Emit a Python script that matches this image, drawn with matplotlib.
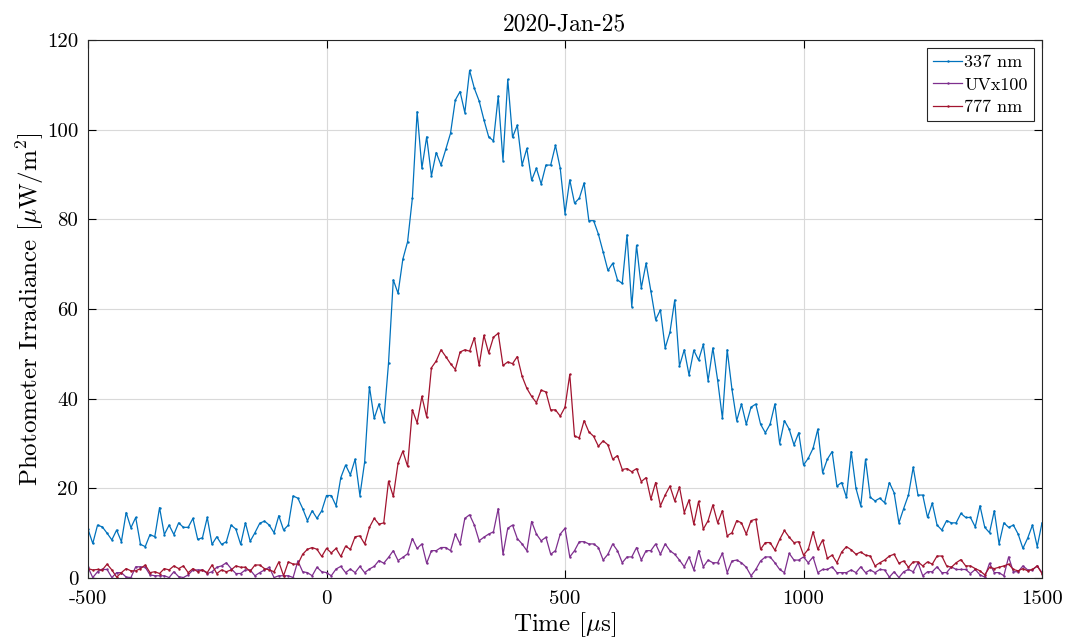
import numpy as np
import matplotlib
matplotlib.use("Agg")
import matplotlib.pyplot as plt

plt.rcParams['font.family'] = 'serif'
plt.rcParams['font.serif'] = ['cmr10']
plt.rcParams['mathtext.fontset'] = 'cm'
plt.rcParams['axes.unicode_minus'] = False
plt.rcParams['axes.formatter.use_mathtext'] = False

# time axis, 10 us steps
t = np.arange(-500, 1501, 10)

ch337 = [10.9, 7.7, 11.8, 11.4, 10.0, 8.5, 10.7, 8.1, 14.6, 11.2, 13.5, 7.5, 7.0, 9.7, 9.2, 15.7, 9.7, 11.8, 9.7, 12.3,
         11.3, 11.3, 13.3, 8.6, 9.0, 13.5, 7.5, 9.2, 7.5, 8.1, 11.8, 10.9, 7.5, 12.3, 8.2,
         10.1, 12.2, 12.7, 11.8, 10.1, 13.9, 10.7, 11.8, 18.3, 17.8, 15.5, 12.8, 15.0, 13.3,
         15.0, 18.4, 18.4, 16.1, 22.4, 25.2, 23.0, 26.5, 18.4, 25.9, 42.7, 35.6, 38.8, 34.9, 47.9, 66.5, 63.5, 71.1, 75.0,
         84.7, 104.0, 91.4, 98.4, 89.7, 94.9, 92.1, 95.6, 99.2, 106.6, 108.5, 103.8, 113.2, 109.2, 106.4, 102.2,
         98.4, 97.5, 107.5, 93.1, 111.2, 98.3, 101.0, 92.1, 95.8, 88.7, 91.4, 87.9, 92.1, 92.1, 96.5, 91.4,
         81.3, 88.8, 83.6, 84.7,
         88.1, 79.7, 79.7, 76.7, 72.7, 68.6, 70.2, 66.5, 65.7, 76.5, 60.5, 74.2, 64.7, 70.2, 64.0, 57.6, 59.8,
         51.3, 54.8, 62.0, 47.3, 50.9, 45.3, 50.8, 48.6, 52.1, 44.0, 51.3, 44.1, 35.6, 50.9, 42.1, 35.1, 38.8,
         34.3, 38.1, 38.8, 34.3, 32.4, 34.3, 38.8, 30.0, 35.1, 33.2, 29.7, 32.4, 25.2, 26.7, 28.9, 33.2,
         23.5, 26.5, 28.2, 20.5, 21.3, 18.0, 28.2, 20.0, 16.1, 26.5, 18.0, 17.2, 17.8, 16.8, 21.3, 19.0, 12.3,
         15.5, 18.5, 24.7, 18.5, 18.5, 13.5, 16.7, 11.8, 10.7, 12.8, 12.3, 12.3, 14.4, 13.5, 13.5, 11.4, 16.1,
         11.3, 10.1, 15.0, 7.6, 12.3, 11.3, 11.8, 9.8, 6.6, 8.9, 11.8, 7.0, 12.3]

uv100 = [2.4, 0.1, 1.4, 1.9, 1.9, 0.1, 1.2, 1.2, 0.2, 0.1, 2.5, 2.5, 2.4, 0.7, 0.5, 0.5, 0.5, 0.1, 1.4, 0.3,
         0.1, 0.7, 1.8, 1.8, 1.8, 1.0, 1.4, 2.4, 2.7, 3.4, 2.1, 1.0, 1.0, 1.8, 1.8,
         0.5, 1.2, 1.8, 2.4, 0.1, 0.5, 0.5, 0.5, 0.1, 3.8, 1.4, 1.2, 0.5, 2.4,
         1.4, 1.2, 0.5, 2.0, 2.6, 1.2, 2.0, 1.2, 2.6, 1.2, 2.0, 2.6, 3.9, 3.3, 4.6, 6.1, 3.9, 4.6, 5.4,
         8.8, 6.6, 7.6, 3.3, 6.1, 6.1, 6.8, 6.8, 6.1, 9.8, 7.6, 13.3, 14.1, 11.8, 8.3, 9.1, 9.8, 10.3, 15.5,
         5.3, 11.1, 11.8, 8.8, 7.6, 6.1, 12.6, 9.8, 8.3, 9.1, 5.3, 6.1, 9.8, 11.1,
         4.7, 6.1, 8.1, 8.1, 7.6, 7.6, 6.8, 4.0, 5.3, 7.6, 6.1, 3.4, 4.7, 4.7, 6.8, 4.0, 6.1, 6.1, 7.6, 5.3,
         7.6, 6.1, 5.3, 4.0, 2.5, 4.7, 1.8, 6.1, 2.5, 4.0, 3.4, 3.4, 5.5,
         1.2, 3.8, 4.0, 3.4, 2.4, 0.5, 1.9, 3.8, 4.7, 4.7, 3.4, 1.9, 1.2, 5.5, 4.0, 4.0, 4.7, 3.4, 4.7, 1.2,
         1.9, 1.9, 2.5, 1.2, 1.2, 1.2, 1.8, 1.2, 2.5, 1.2, 1.8, 1.2, 1.9,
         1.8, 0.2, 1.4, 0.1, 1.4, 1.9, 1.4, 3.4, 0.5, 1.4, 1.4, 2.5, 1.2, 1.2, 2.5, 1.9, 1.9, 1.9, 1.0, 1.9,
         0.7, 0.2, 3.3, 1.2, 1.2, 0.5, 4.7, 1.4, 1.4, 2.7, 1.8, 1.8, 2.7, 1.2]

ch777 = [2.1, 1.8, 1.9, 1.8, 3.1, 1.8, 0.2, 1.2, 2.1, 1.6, 1.6, 2.1, 2.9, 1.2, 1.4, 1.0, 2.1, 1.8, 2.7, 2.1,
         2.7, 1.2, 2.1, 1.4, 1.8, 1.2, 2.9, 1.0, 1.8, 1.4, 1.8, 2.7, 2.4, 2.4, 1.5,
         2.9, 2.9, 2.1, 1.8, 1.4, 3.6, 0.5, 3.6, 3.1, 3.1, 5.3, 6.4, 6.8, 6.4,
         4.8, 6.6, 5.6, 6.6, 4.8, 7.1, 6.4, 9.2, 9.4, 7.6, 11.3, 13.3, 12.0, 12.3,
         21.6, 18.2, 25.6, 28.3, 24.9, 37.5, 34.6, 40.5, 35.9, 46.9, 48.4, 50.9, 49.4, 47.8, 46.5, 50.4, 50.9,
         50.6, 53.6, 47.4, 54.1, 50.2, 53.7, 54.6, 47.4, 48.2, 47.8, 49.4, 45.0, 42.3, 40.5, 39.1, 41.9, 41.5,
         37.5, 37.5, 36.1, 38.1, 45.4, 31.6, 31.3,
         35.1, 32.6, 31.6, 29.4, 30.6, 29.7, 26.5, 27.3, 24.2, 24.4, 23.7, 24.4, 21.5, 22.4, 17.6, 21.3, 16.1,
         18.5, 20.5, 17.2, 20.3, 14.6, 17.4, 12.0, 17.1, 10.9, 12.8, 16.3, 12.3, 15.0, 9.4, 10.1, 12.8, 12.3,
         9.8, 12.8, 13.1, 6.4, 7.9, 7.9, 6.2, 8.6, 10.6, 9.1, 7.9, 8.1, 5.1, 6.4, 10.3, 6.4,
         8.5, 4.4, 5.1, 3.4, 5.8, 7.0, 6.3, 5.3, 5.8, 5.1, 4.9, 2.7, 3.4,
         4.0, 4.9, 5.3, 3.3, 3.8, 2.4, 3.6, 3.6, 2.7, 3.6, 3.1, 4.9, 4.9, 2.7, 2.4, 3.4, 4.1, 2.7, 2.7, 2.1,
         1.6, 0.7, 2.4, 2.1, 2.4, 2.7, 3.1, 1.9, 1.6, 2.1, 1.6, 1.9, 2.7, 1.0]

series = [(ch337, '337 nm', '#0072BD'),
          (uv100, 'UVx100', '#7E2F8E'),
          (ch777, '777 nm', '#A2142F')]

fig = plt.figure(figsize=(10.82, 6.42), dpi=100)
ax = fig.add_axes([88/1082, 1 - 578/642, 954/1082, 538/642])

for vals, lab, col in series:
    ax.plot(t, vals, '-', marker='.', markersize=1.5, lw=0.9, color=col, label=lab)

ax.set_xlim(-500, 1500)
ax.set_ylim(0, 120)
ax.set_xticks([-500, 0, 500, 1000, 1500])
ax.set_yticks(np.arange(0, 121, 20))
ax.grid(True, color='#d9d9d9', lw=0.8)
ax.set_axisbelow(True)
ax.tick_params(direction='in', top=True, right=True, length=6, width=0.8, labelsize=15)
ax.tick_params(axis='x', pad=9)
ax.tick_params(axis='y', pad=7)
for s in ax.spines.values():
    s.set_linewidth(0.8)
    s.set_color('#262626')

ax.set_xlabel(r'Time [$\mu$s]', fontsize=18, labelpad=1)
ax.set_ylabel(r'Photometer Irradiance [$\mu$W/m$^2$]', fontsize=18, labelpad=1)
ax.set_title('2020-Jan-25', fontsize=17, pad=7)

leg = ax.legend(loc='upper right', fontsize=13, fancybox=False, framealpha=1,
                edgecolor='#262626', handlelength=1.6, handletextpad=0.1,
                borderpad=0.35, labelspacing=0.38, borderaxespad=0.45)
leg.get_frame().set_linewidth(0.8)

fig.savefig('out.png', dpi=100)
